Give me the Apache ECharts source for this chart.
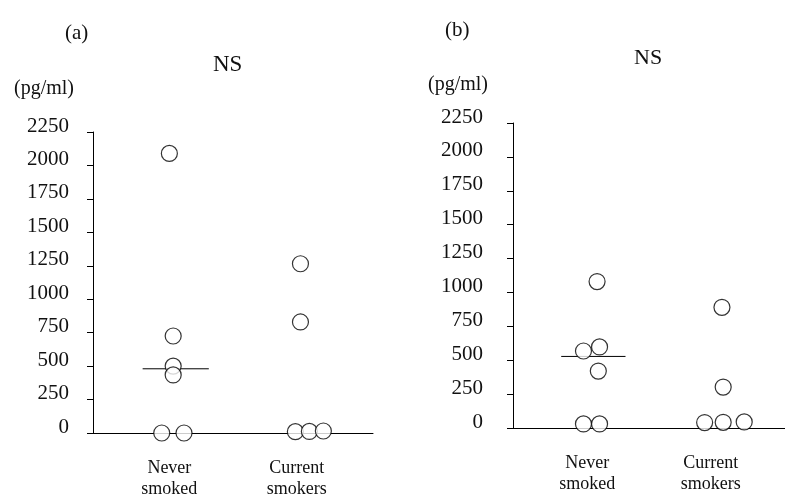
<!DOCTYPE html>
<html>
<head>
<meta charset="utf-8">
<script src="https://cdn.jsdelivr.net/npm/echarts@6/dist/echarts.min.js"></script>
<style>
html,body{margin:0;padding:0;background:#fff;}
#chart{width:785px;height:496px;}
</style>
</head>
<body>
<div id="chart"></div>
<script>
// ---- data ----
const categories = ['Never\nsmoked', 'Current\nsmokers'];
const yTickStep = 250;
const yMax = 2250;

// panel (a)
const aNeverX = [1.00, 1.03, 1.03, 1.03, 0.94, 1.115];
const aNeverY = [2090, 725, 500, 434, 0, 0];
const aCurrentX = [2.03, 2.03, 1.99, 2.10, 2.21];
const aCurrentY = [1265, 830, 10, 12, 15];
const aNeverMedian = 480;

// panel (b)
const bNeverX = [1.08, 0.97, 1.10, 1.09, 0.97, 1.10];
const bNeverY = [1080, 568, 598, 420, 30, 30];
const bCurrentX = [2.09, 2.10, 1.95, 2.10, 2.27];
const bCurrentY = [890, 302, 40, 42, 45];
const bNeverMedian = 528;

const panelLabels = ['(a)', '(b)'];
const sigLabel = 'NS';
const unitLabel = '(pg/ml)';

// ---- chart ----
const FONT = '"Liberation Serif", "DejaVu Serif", serif';
const pairs = (xs, ys) => xs.map((x, i) => [x, ys[i]]);
const medianSpan = [0.79, 1.31];

function xAxisFor(idx) {
  return {
    type: 'value', gridIndex: idx, min: 0.4, max: 2.6,
    splitLine: {show: false},
    axisLine: {show: true, onZero: false, lineStyle: {color: '#000', width: 1}},
    axisTick: {show: false},
    axisLabel: {
      customValues: [1, 2],
      formatter: v => categories[Math.round(v) - 1] || '',
      fontFamily: FONT, fontSize: 18, color: '#111', lineHeight: 21,
      margin: 25
    }
  };
}
function yAxisFor(idx, margin) {
  return {
    type: 'value', gridIndex: idx, min: 0, max: yMax, interval: yTickStep,
    splitLine: {show: false},
    axisLine: {show: true, lineStyle: {color: '#000', width: 1}},
    axisTick: {show: true, length: 6, lineStyle: {color: '#000'}},
    axisLabel: {
      formatter: v => String(v),
      fontFamily: FONT, fontSize: 21, color: '#111', margin: margin,
      verticalAlign: 'bottom', lineHeight: 12
    }
  };
}
const circleStyle = {color: '#fff', borderColor: '#000', borderWidth: 1.2};
function scatter(idx, data) {
  return {type: 'scatter', xAxisIndex: idx, yAxisIndex: idx, data: data,
    symbol: 'circle', symbolSize: 16, itemStyle: circleStyle, z: 3};
}
function median(idx, v) {
  return {type: 'line', xAxisIndex: idx, yAxisIndex: idx,
    data: [[medianSpan[0], v], [medianSpan[1], v]],
    symbol: 'none', lineStyle: {color: '#000', width: 1}, z: 2};
}

const chart = echarts.init(document.getElementById('chart'), null, {renderer: 'canvas'});
chart.setOption({
  backgroundColor: '#fff',
  animation: false,
  title: [
    {text: panelLabels[0], left: 60, top: 18, textStyle: {fontFamily: FONT, fontSize: 21, fontWeight: 'normal', color: '#111'}},
    {text: sigLabel, left: 208, top: 48, textStyle: {fontFamily: FONT, fontSize: 23, fontWeight: 'normal', color: '#111'}},
    {text: unitLabel, left: 9, top: 74, textStyle: {fontFamily: FONT, fontSize: 20, fontWeight: 'normal', color: '#111'}},
    {text: panelLabels[1], left: 440, top: 15, textStyle: {fontFamily: FONT, fontSize: 21, fontWeight: 'normal', color: '#111'}},
    {text: sigLabel, left: 629, top: 42, textStyle: {fontFamily: FONT, fontSize: 22, fontWeight: 'normal', color: '#111'}},
    {text: unitLabel, left: 423, top: 70, textStyle: {fontFamily: FONT, fontSize: 20, fontWeight: 'normal', color: '#111'}}
  ],
  grid: [
    {left: 93, top: 132, width: 280, height: 301, containLabel: false, outerBoundsMode: 'none'},
    {left: 513, top: 123, width: 272, height: 305, containLabel: false, outerBoundsMode: 'none'}
  ],
  xAxis: [xAxisFor(0), xAxisFor(1)],
  yAxis: [yAxisFor(0, 24), yAxisFor(1, 30)],
  series: [
    scatter(0, pairs(aNeverX, aNeverY)),
    scatter(0, pairs(aCurrentX, aCurrentY)),
    median(0, aNeverMedian),
    scatter(1, pairs(bNeverX, bNeverY)),
    scatter(1, pairs(bCurrentX, bCurrentY)),
    median(1, bNeverMedian)
  ]
});
</script>
</body>
</html>
